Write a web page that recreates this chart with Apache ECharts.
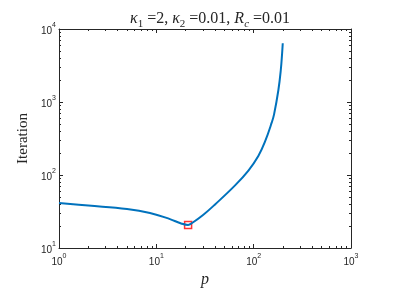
<!DOCTYPE html>
<html>
<head>
<meta charset="utf-8">
<script src="https://cdn.jsdelivr.net/npm/echarts@6/dist/echarts.min.js"></script>
<style>html,body{margin:0;padding:0;background:#fff;}#c{width:397px;height:293px;}</style>
</head>
<body>
<div id="c"></div>
<script>
// Data
var pValues = [1, 2, 5, 8.6, 13.8, 18, 21.2, 23.3, 30.2, 40.1, 64.4, 88.3, 111.7, 131, 153.5, 162, 179.5, 190, 196, 199];
var iterValues = [41.3, 38.1, 34.2, 30.2, 24.9, 21.7, 20.7, 22.0, 28.3, 39.5, 72, 115, 182, 288, 525, 676, 1459, 2742, 4645, 6370];
var markerP = [21.2];
var markerIter = [20.7];

var lineData = pValues.map(function (p, i) { return [p, iterValues[i]]; });
var markData = markerP.map(function (p, i) { return [p, markerIter[i]]; });

function minorLogs(e0, e1) {
  var out = [];
  for (var e = e0; e < e1; e++) {
    for (var m = 2; m <= 9; m++) out.push(e + Math.log10(m));
  }
  return out;
}
var axisColor = '#262626';
var labelRich = {
  b: { fontFamily: 'Liberation Sans', fontSize: 10, color: axisColor, lineHeight: 14, verticalAlign: 'bottom' },
  s: { fontFamily: 'Liberation Sans', fontSize: 7, color: axisColor, lineHeight: 14, verticalAlign: 'top' }
};
function fmt(v) { return '{b|10}{s|' + Math.round(Math.log10(v)) + '}'; }

function majorAxis(pos, isX, min, max, showLabel) {
  return {
    type: 'log', logBase: 10, min: min, max: max, position: pos,
    axisLine: { show: true, lineStyle: { color: axisColor, width: 1 } },
    axisTick: { show: true, inside: true, length: 4, lineStyle: { color: axisColor } },
    axisLabel: { show: showLabel, formatter: fmt, rich: labelRich, margin: isX ? 5 : 3 },
    splitLine: { show: false },
    minorTick: { show: false }
  };
}
function minorAxis(pos, e0, e1) {
  return {
    type: 'value', min: e0, max: e1, position: pos,
    axisLine: { show: false },
    axisTick: { show: true, inside: true, length: 2, customValues: minorLogs(e0, e1), lineStyle: { color: axisColor } },
    axisLabel: { show: false },
    splitLine: { show: false }
  };
}

var xb = majorAxis('bottom', true, 1, 1000, true);
xb.name = 'p';
xb.nameLocation = 'middle';
xb.nameGap = 22;
xb.nameTextStyle = { fontFamily: 'Liberation Serif', fontStyle: 'italic', fontSize: 16, color: axisColor };
var yl = majorAxis('left', false, 10, 10000, true);
yl.name = 'Iteration';
yl.nameLocation = 'middle';
yl.nameGap = 28;
yl.nameTextStyle = { fontFamily: 'Liberation Serif', fontSize: 15, color: axisColor };

var ff = 'Liberation Serif';
var chart = echarts.init(document.getElementById('c'), null, { renderer: 'canvas' });
chart.setOption({
  animation: false,
  backgroundColor: '#fff',
  title: {
    text: '{i|κ}{sub|1}{n| =2, }{i|κ}{sub|2}{n| =0.01, }{i|R}{subi|c}{n| =0.01}',
    left: 205, top: 4, textAlign: 'center',
    textStyle: {
      fontWeight: 'normal',
      rich: {
        i: { fontFamily: ff, fontStyle: 'italic', fontWeight: 'normal', fontSize: 16, color: axisColor, lineHeight: 18, verticalAlign: 'bottom' },
        n: { fontFamily: ff, fontWeight: 'normal', fontSize: 16, color: axisColor, lineHeight: 18, verticalAlign: 'bottom' },
        sub: { fontFamily: ff, fontWeight: 'normal', fontSize: 11, color: axisColor, lineHeight: 18, verticalAlign: 'bottom', padding: [0, 0, -3, 0] },
        subi: { fontFamily: ff, fontStyle: 'italic', fontWeight: 'normal', fontSize: 11, color: axisColor, lineHeight: 18, verticalAlign: 'bottom', padding: [0, 0, -3, 0] }
      }
    }
  },
  grid: { left: 59, right: 46, top: 29, bottom: 45, containLabel: false },
  xAxis: [
    xb,
    minorAxis('bottom', 0, 3),
    majorAxis('top', true, 1, 1000, false),
    minorAxis('top', 0, 3)
  ],
  yAxis: [
    yl,
    minorAxis('left', 1, 4),
    majorAxis('right', false, 10, 10000, false),
    minorAxis('right', 1, 4)
  ],
  series: [
    {
      type: 'line', xAxisIndex: 0, yAxisIndex: 0, data: lineData,
      smooth: 0.4, showSymbol: false, symbol: 'none',
      lineStyle: { color: '#0072BD', width: 2 }
    },
    {
      type: 'scatter', xAxisIndex: 0, yAxisIndex: 0, data: markData,
      symbol: 'rect', symbolSize: 7,
      itemStyle: { color: 'rgba(255,255,255,0)', borderColor: '#FF0000', borderWidth: 1.5 }
    }
  ]
});
</script>
</body>
</html>
